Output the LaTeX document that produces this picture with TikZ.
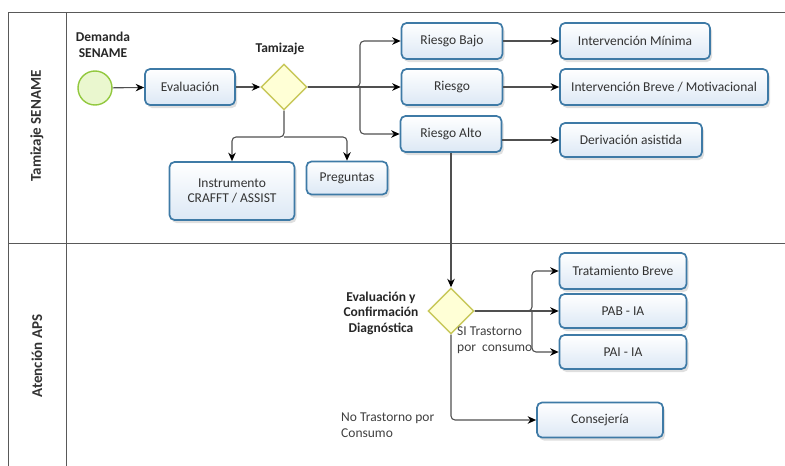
\documentclass[tikz,border=0pt]{standalone}
\usepackage{fontspec}
\setmainfont{Carlito}
\usepackage{xcolor}
\usepackage{tikz}
\usetikzlibrary{arrows.meta,shapes.geometric,shadows}
\definecolor{boxline}{HTML}{3E7AA6}
\definecolor{boxfill}{HTML}{DCE8F5}
\definecolor{gateline}{HTML}{C8C85A}
\definecolor{gatefill}{HTML}{FFFFD6}
\definecolor{startline}{HTML}{92C83E}
\definecolor{startfill}{HTML}{EAF7CF}
\definecolor{flow}{HTML}{505050}

\begin{document}
\begin{tikzpicture}[x=1pt,y=-1pt,
  tarea/.style={draw=boxline,line width=1.7pt,rounded corners=5pt,top color=white,bottom color=boxfill,
    align=center,inner sep=0pt,font=\fontsize{13.5}{15.5}\selectfont,text=black!80,
    drop shadow={opacity=0.25,shadow xshift=2pt,shadow yshift=-3pt}},
  compuerta/.style={diamond,draw=gateline,fill=gatefill,line width=1.4pt,minimum width=46pt,minimum height=46pt,inner sep=0pt},
  inicio/.style={circle,draw=startline,fill=startfill,line width=1.4pt,minimum size=34pt,inner sep=0pt},
  flujo/.style={draw=flow,line width=1.1pt,-{Stealth[length=8.5pt,width=7.5pt,black]}},
  rotulo/.style={font=\bfseries\fontsize{13.5}{15.5}\selectfont,align=center,text=black!85},
  nota/.style={font=\fontsize{13.5}{16}\selectfont,align=left,text=black!75,inner sep=0pt},
  carril/.style={font=\bfseries\fontsize{15}{17}\selectfont,text=black!80,rotate=90}]
  \useasboundingbox (0,0) rectangle (785,466);

  \draw[black!65,line width=1pt] (785,12) -- (8,12) -- (8,466);
  \draw[black!65,line width=1pt] (66,12) -- (66,466);
  \draw[black!65,line width=1pt] (8,243) -- (785,243);
  \node[carril] (carril1) at (37,126) {Tamizaje SENAME};
  \node[carril] (carril2) at (37,356) {Atención APS};

  \node[inicio] (demanda) at (95,88) {};
  \node[rotulo] (lbldemanda) at (103,45) {Demanda\\SENAME};
  \node[tarea,minimum width=90pt,minimum height=36pt] (eval) at (190,87) {Evaluación};
  \node[compuerta] (tam) at (284,87) {};
  \node[rotulo] (lbltam) at (280,49) {Tamizaje};
  \node[tarea,minimum width=101pt,minimum height=36pt] (bajo) at (452,41) {Riesgo Bajo};
  \node[tarea,minimum width=101pt,minimum height=36pt] (riesgo) at (452,87) {Riesgo};
  \node[tarea,minimum width=101pt,minimum height=36pt] (alto) at (451,134) {Riesgo Alto};
  \node[tarea,minimum width=150pt,minimum height=36pt] (minima) at (635,41) {Intervención Mínima};
  \node[tarea,minimum width=208pt,minimum height=36pt] (breve) at (664,87) {Intervención Breve / Motivacional};
  \node[tarea,minimum width=142pt,minimum height=34pt] (deriv) at (631,140) {Derivación asistida};
  \node[tarea,minimum width=125pt,minimum height=58pt] (instr) at (232,191) {Instrumento\\CRAFFT / ASSIST};
  \node[tarea,minimum width=81pt,minimum height=33pt] (preg) at (347,178) {Preguntas};

  \node[compuerta] (diag) at (451,311) {};
  \node[rotulo] (lbldiag) at (381,313) {Evaluación y\\Confirmación\\Diagnóstica};
  \node[tarea,minimum width=127pt,minimum height=36pt] (trat) at (623,271) {Tratamiento Breve};
  \node[tarea,minimum width=127pt,minimum height=34pt] (pab) at (623,311) {PAB - IA};
  \node[tarea,minimum width=127pt,minimum height=34pt] (pai) at (623,352) {PAI - IA};
  \node[tarea,minimum width=126pt,minimum height=35pt] (cons) at (600,420) {Consejería};
  \node[nota,anchor=west] (lblsi) at (457,340) {SI Trastorno\\por~ consumo};
  \node[nota,anchor=west] (lblno) at (341,425) {No Trastorno por\\Consumo};

  \coordinate (rama1) at (360,87);
  \coordinate (rama2) at (284,137);
  \coordinate (rama3) at (532,311);
  \draw[flujo] (demanda) -- (eval);
  \draw[flujo] (eval) -- (tam);
  \draw[flujo,rounded corners=4pt] (tam.east) -- (rama1) |- (bajo.west);
  \draw[flujo] (tam.east) -- (riesgo.west);
  \draw[flujo,rounded corners=4pt] (rama1) |- (alto.west);
  \draw[flujo] (bajo) -- (minima);
  \draw[flujo] (riesgo) -- (breve);
  \draw[flujo] (alto.east |- deriv.west) -- (deriv.west);
  \draw[flujo,rounded corners=4pt] (tam.south) -- (rama2) -| (instr.north);
  \draw[flujo,rounded corners=4pt] (rama2) -| (preg.north);
  \draw[flujo] (alto) -- (diag);
  \draw[flujo,rounded corners=4pt] (diag.east) -- (rama3) |- (trat.west);
  \draw[flujo] (diag.east) -- (pab.west);
  \draw[flujo,rounded corners=4pt] (rama3) |- (pai.west);
  \draw[flujo,rounded corners=4pt] (diag.south) |- (cons.west);
\end{tikzpicture}
\end{document}
